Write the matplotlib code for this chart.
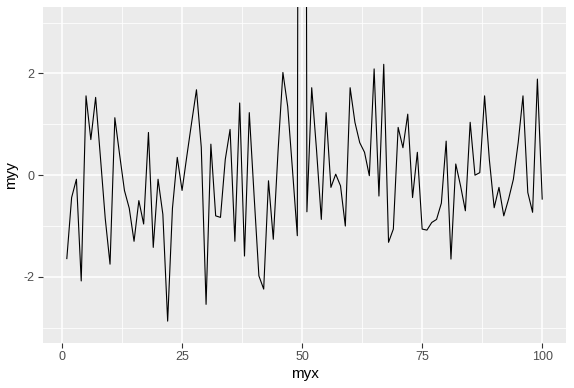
#line plot of myy against myx, ggplot style look
import numpy as np
import matplotlib.pyplot as plt

myx = list(range(1, 101))
myy = [-1.64, -0.44, -0.08, -2.08, 1.56, 0.70, 1.53, 0.35, -0.85, -1.75,
       1.13, 0.40, -0.30, -0.65, -1.30, -0.50, -0.96, 0.84, -1.42, -0.08,
       -0.77, -2.87, -0.65, 0.35, -0.30, 0.38, 1.04, 1.68, 0.55, -2.54,
       0.61, -0.80, -0.83, 0.31, 0.90, -1.30, 1.42, -1.59, 1.23, -0.40,
       -1.98, -2.24, -0.11, -1.26, 0.49, 2.02, 1.35, 0.10, -1.19, 50.0,
       -0.72, 1.72, 0.50, -0.87, 1.23, -0.24, 0.02, -0.21, -1.00, 1.72,
       1.04, 0.64, 0.45, -0.01, 2.09, -0.41, 2.18, -1.32, -1.06, 0.94,
       0.54, 1.20, -0.44, 0.45, -1.06, -1.08, -0.93, -0.87, -0.55, 0.67,
       -1.65, 0.22, -0.21, -0.70, 1.04, 0.00, 0.05, 1.56, 0.30, -0.64,
       -0.24, -0.80, -0.47, -0.08, 0.64, 1.56, -0.34, -0.73, 1.89, -0.47]

xticks = [0, 25, 50, 75, 100]
yticks = [-2, 0, 2]

plt.rcParams['font.family'] = ['Liberation Sans', 'DejaVu Sans']
plt.rcParams['axes.unicode_minus'] = False

fig = plt.figure(figsize=(5.74, 3.88), dpi=100)
fig.subplots_adjust(left=0.075, right=0.986, top=0.981, bottom=0.116)
ax = fig.add_subplot(111)
ax.set_facecolor('#EBEBEB')

ax.plot(myx, myy, color='black', lw=0.8, zorder=3)

# limits like coord_cartesian(ylim=c(-3,3)) with default expansion
xr = max(myx) - min(myx)
ax.set_xlim(min(myx) - 0.05 * xr, max(myx) + 0.05 * xr)
ax.set_ylim(-3.3, 3.3)

ax.set_xticks(xticks)
ax.set_yticks(yticks)
ax.set_xticks([12.5, 37.5, 62.5, 87.5], minor=True)
ax.set_yticks([-3, -1, 1, 3], minor=True)
ax.grid(which='major', color='white', lw=1.1, zorder=0)
ax.grid(which='minor', color='white', lw=0.55, zorder=0)
ax.set_axisbelow(True)

for s in ax.spines.values():
    s.set_visible(False)
ax.tick_params(which='major', length=3.5, width=0.8, color='#333333',
               labelcolor='#4D4D4D', labelsize=9, pad=2.5)
ax.tick_params(which='minor', length=0)

ax.set_xlabel('myx', fontsize=11, color='black', labelpad=3)
ax.set_ylabel('myy', fontsize=11, color='black', labelpad=4)

plt.savefig('out.png', dpi=100)
